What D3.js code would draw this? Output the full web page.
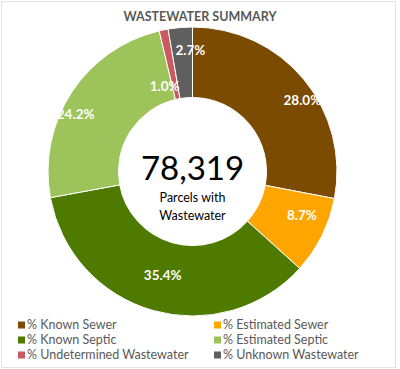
<!DOCTYPE html>
<html><head><meta charset="utf-8">
<script src="https://cdn.jsdelivr.net/npm/d3@7"></script>
<style>body{margin:0;background:#fff}svg{display:block}text{font-family:Lato,"Open Sans",sans-serif}</style>
</head><body>
<svg id="c" width="400" height="369"></svg>
<script>
const categories = ["% Known Sewer","% Estimated Sewer","% Known Septic","% Estimated Septic","% Undetermined Wastewater","% Unknown Wastewater"];
const values = [28.0, 8.7, 35.4, 24.2, 1.0, 2.7];
const colors = ["#7a4b00","#ffa500","#4e7a00","#9cc45a","#cb5a60","#5f5f5f"];
const totalLabel = "78,319";
const centerLines = ["Parcels with","Wastewater"];
const title = "WASTEWATER SUMMARY";

const svg = d3.select("#c");
svg.append("rect").attr("x",1.5).attr("y",1.5).attr("width",394).attr("height",366)
  .attr("fill","#fff").attr("stroke","#e3e3e3").attr("stroke-width",1);

svg.append("text").attr("x",200).attr("y",21).attr("text-anchor","middle")
  .attr("font-size",12.5).attr("font-weight","bold").attr("fill","#595959").text(title);

const cx=192.5, cy=171.5, R=144.5, r=74;
const pie = d3.pie().sort(null).value(d=>d.v);
const data = pie(values.map((v,i)=>({v,i})));
const arc = d3.arc().innerRadius(r).outerRadius(R);
const g = svg.append("g").attr("transform",`translate(${cx},${cy})`);
g.selectAll("path").data(data).join("path").attr("d",arc)
  .attr("fill",d=>colors[d.data.i]).attr("stroke","#fff").attr("stroke-width",1);

// label placement (Excel best-fit like)
const labelPos = [{a:57,rr:131},{a:112,rr:118},{a:196,rr:108},{a:296,rr:130},{a:342,rr:90},{a:359,rr:121}];
g.selectAll("text.lbl").data(data).join("text").attr("class","lbl")
  .attr("x",d=>{const p=labelPos[d.data.i];return p.rr*Math.sin(p.a*Math.PI/180);})
  .attr("y",d=>{const p=labelPos[d.data.i];return -p.rr*Math.cos(p.a*Math.PI/180);})
  .attr("dy","0.35em").attr("text-anchor","middle").attr("font-size",13.5).attr("font-weight","bold")
  .attr("fill","#fff").text(d=>d3.format(".1f")(d.data.v)+"%");

g.append("text").attr("x",0).attr("y",8).attr("text-anchor","middle").attr("font-size",33)
  .attr("fill","#000").text(totalLabel);
centerLines.forEach((t,i)=>g.append("text").attr("x",0).attr("y",30+i*18).attr("text-anchor","middle")
  .attr("font-size",12.5).attr("fill","#000").text(t));

const lg = svg.append("g");
categories.forEach((c,i)=>{
  const col=i%2,row=Math.floor(i/2);
  const x = col? 214:18, y = 325+row*15;
  lg.append("rect").attr("x",x).attr("y",y-3.5).attr("width",7).attr("height",7).attr("fill",colors[i]);
  lg.append("text").attr("x",x+9).attr("y",y).attr("dy","0.35em").attr("font-size",12.5)
    .attr("fill","#595959").text(c);
});
</script>
</body></html>
